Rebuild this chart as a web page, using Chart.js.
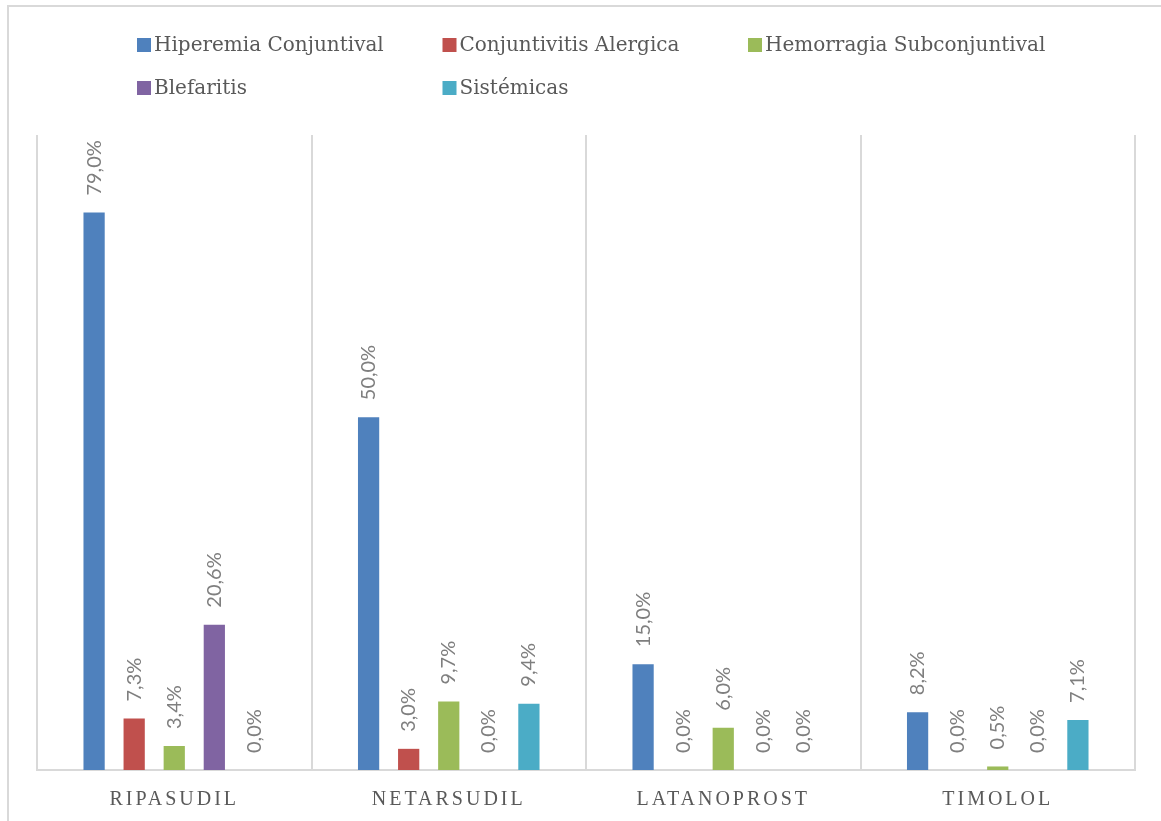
<!DOCTYPE html>
<html>
<head>
<meta charset="utf-8">
<script src="https://cdn.jsdelivr.net/npm/chart.js@4.4.1/dist/chart.umd.min.js"></script>
<style>
    html, body { margin: 0; padding: 0; background: #ffffff; }
    #wrap { position: relative; width: 1161px; height: 821px; overflow: hidden; }
    #frame { position: absolute; left: 7px; top: 5px; width: 1170px; height: 830px; border: 2px solid #d9d9d9; box-sizing: border-box; }
    canvas { position: absolute; left: 0; top: 0; }
</style>
</head>
<body>
<div id="wrap">
    <div id="frame"></div>
    <canvas id="chart" width="1161" height="821"></canvas>
</div>
<script>
// Data
const categories = ['RIPASUDIL', 'NETARSUDIL', 'LATANOPROST', 'TIMOLOL'];
const seriesNames = ['Hiperemia Conjuntival', 'Conjuntivitis Alergica', 'Hemorragia Subconjuntival', 'Blefaritis', 'Sistémicas'];
const hiperemia = [79.0, 50.0, 15.0, 8.2];
const conjuntivitis = [7.3, 3.0, 0.0, 0.0];
const hemorragia = [3.4, 9.7, 6.0, 0.5];
const blefaritis = [20.6, 0.0, 0.0, 0.0];
const sistemicas = [0.0, 9.4, 0.0, 7.1];
const seriesColors = ['#4f81bd', '#c0504d', '#9bbb59', '#8064a2', '#4bacc6'];
const yMax = 90;

const allSeries = [hiperemia, conjuntivitis, hemorragia, blefaritis, sistemicas];

// Legend laid out as a grid of 3 columns, like the original
const gridLegend = {
    id: 'gridLegend',
    afterDraw(chart) {
        const ctx = chart.ctx;
        ctx.save();
        ctx.letterSpacing = '0px';
        ctx.font = '20px "DejaVu Serif"';
        ctx.textBaseline = 'middle';
        chart.data.datasets.forEach(function(ds, i) {
            const col = i % 3;
            const row = Math.floor(i / 3);
            const x = 137 + col * 305.5;
            const y = 45 + row * 43;
            ctx.fillStyle = ds.backgroundColor;
            ctx.fillRect(x, y - 7, 14, 14);
            ctx.fillStyle = '#595959';
            ctx.fillText(ds.label, x + 17, y + 1);
        });
        ctx.restore();
    }
};

// Rotated value labels above each bar
const valueLabels = {
    id: 'valueLabels',
    afterDatasetsDraw(chart) {
        const ctx = chart.ctx;
        ctx.save();
        ctx.letterSpacing = '0px';
        ctx.font = '20px Lato';
        ctx.fillStyle = '#7f7f7f';
        ctx.textAlign = 'left';
        ctx.textBaseline = 'middle';
        chart.data.datasets.forEach(function(ds, i) {
            chart.getDatasetMeta(i).data.forEach(function(bar, j) {
                const txt = ds.data[j].toFixed(1).replace('.', ',') + '%';
                ctx.save();
                ctx.translate(bar.x, bar.y - 17);
                ctx.rotate(-Math.PI / 2);
                ctx.fillText(txt, 0, 0);
                ctx.restore();
            });
        });
        ctx.restore();
    }
};

const spacedTicks = {
    id: 'spacedTicks',
    beforeDraw(chart) { chart.ctx.letterSpacing = '3px'; },
    afterDraw(chart) { chart.ctx.letterSpacing = '0px'; }
};

new Chart(document.getElementById('chart').getContext('2d'), {
    type: 'bar',
    data: {
        labels: categories,
        datasets: seriesNames.map(function(name, i) {
            return {
                label: name,
                data: allSeries[i],
                backgroundColor: seriesColors[i],
                borderWidth: 0,
                categoryPercentage: 0.73,
                barPercentage: 0.53
            };
        })
    },
    options: {
        responsive: false,
        animation: false,
        layout: { padding: { left: 37, right: 26, top: 135, bottom: -9 } },
        plugins: {
            legend: { display: false },
            tooltip: { enabled: false }
        },
        scales: {
            x: {
                grid: { color: '#d9d9d9', lineWidth: 2, drawTicks: false, offset: true },
                border: { color: '#d9d9d9', width: 2 },
                ticks: {
                    color: '#595959',
                    font: { family: 'Liberation Serif', size: 20 },
                    padding: 18,
                    maxRotation: 0
                }
            },
            y: {
                display: false,
                min: 0,
                max: yMax
            }
        }
    },
    plugins: [spacedTicks, valueLabels, gridLegend]
});
</script>
</body>
</html>
